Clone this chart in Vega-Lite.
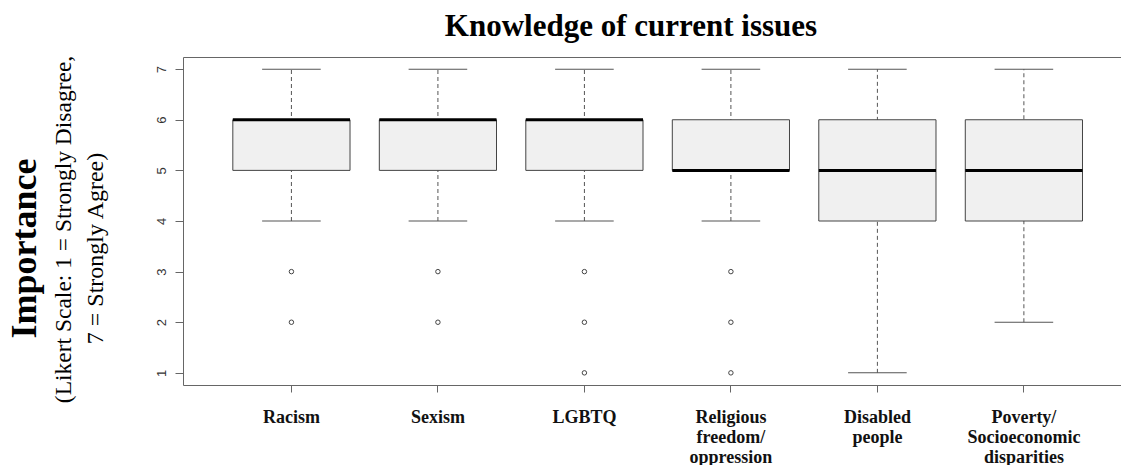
{
  "$schema": "https://vega.github.io/schema/vega-lite/v6.json",
  "width": 938,
  "height": 328,
  "autosize": {"type": "none"},
  "padding": {"left": 183, "top": 57, "right": 0, "bottom": 80},
  "background": "white",
  "title": {
    "text": "Knowledge of current issues",
    "font": "Liberation Serif",
    "fontSize": 31,
    "fontWeight": "bold",
    "color": "#000000",
    "anchor": "middle",
    "dx": -21,
    "dy": 31,
    "baseline": "alphabetic",
    "offset": 19
  },
  "datasets": {
    "boxes": [
      {"issue": "Racism", "lower": 4, "q1": 5, "median": 6, "q3": 6, "upper": 7},
      {"issue": "Sexism", "lower": 4, "q1": 5, "median": 6, "q3": 6, "upper": 7},
      {"issue": "LGBTQ", "lower": 4, "q1": 5, "median": 6, "q3": 6, "upper": 7},
      {"issue": "Religious freedom/ oppression", "lower": 4, "q1": 5, "median": 5, "q3": 6, "upper": 7},
      {"issue": "Disabled people", "lower": 1, "q1": 4, "median": 5, "q3": 6, "upper": 7},
      {"issue": "Poverty/ Socioeconomic disparities", "lower": 2, "q1": 4, "median": 5, "q3": 6, "upper": 7}
    ],
    "outliers": [
      {"issue": "Racism", "value": 3},
      {"issue": "Racism", "value": 2},
      {"issue": "Sexism", "value": 3},
      {"issue": "Sexism", "value": 2},
      {"issue": "LGBTQ", "value": 3},
      {"issue": "LGBTQ", "value": 2},
      {"issue": "LGBTQ", "value": 1},
      {"issue": "Religious freedom/ oppression", "value": 3},
      {"issue": "Religious freedom/ oppression", "value": 2},
      {"issue": "Religious freedom/ oppression", "value": 1}
    ]
  },
  "config": {
    "view": {"stroke": null},
    "axis": {"grid": false, "domainColor": "#666666", "tickColor": "#666666"}
  },
  "resolve": {"scale": {"y": "independent"}, "axis": {"x": "independent"}},
  "layer": [
    {
      "data": {"name": "boxes"},
      "encoding": {
        "x": {
          "field": "issue",
          "type": "nominal",
          "sort": null,
          "scale": {"paddingInner": 0.2, "paddingOuter": 0.3015, "align": 0.564},
          "axis": {
            "orient": "bottom",
            "title": null,
            "labelAngle": 0,
            "labelAlign": "center",
            "labelFont": "Liberation Serif",
            "labelFontSize": 18,
            "labelFontWeight": "bold",
            "labelColor": "#111111",
            "labelLineHeight": 20,
            "labelBaseline": "alphabetic",
            "labelPadding": 30,
            "labelOverlap": false,
            "tickSize": 7,
            "labelExpr": "split(datum.value, ' ')"
          }
        }
      },
      "layer": [
        {
          "mark": {"type": "rule", "strokeDash": [4, 3], "color": "#555555", "strokeWidth": 1},
          "encoding": {
            "y": {
              "field": "lower", "type": "quantitative",
              "scale": {"domain": [0.76, 7.24], "nice": false, "zero": false},
              "axis": {
                "title": "Importance",
                "titleFont": "Liberation Serif",
                "titleFontSize": 36,
                "titleFontWeight": "bold",
                "titleColor": "#000000",
                "titleAngle": -90,
                "titleAlign": "center",
                "titleBaseline": "alphabetic",
                "titleX": -148,
                "titleY": 191,
                "values": [1, 2, 3, 4, 5, 6, 7],
                "labelAngle": -90,
                "labelAlign": "center",
                "labelBaseline": "alphabetic",
                "labelFont": "Liberation Sans",
                "labelFontSize": 13,
                "labelColor": "#333333",
                "tickSize": 8,
                "labelPadding": 10
              }
            },
            "y2": {"field": "upper"}
          }
        },
        {
          "mark": {"type": "tick", "size": 58.6, "thickness": 1, "color": "#555555", "opacity": 1},
          "encoding": {
            "y": {"field": "lower", "type": "quantitative", "scale": {"domain": [0.76, 7.24], "nice": false, "zero": false}}
          }
        },
        {
          "mark": {"type": "tick", "size": 58.6, "thickness": 1, "color": "#555555", "opacity": 1},
          "encoding": {
            "y": {"field": "upper", "type": "quantitative", "scale": {"domain": [0.76, 7.24], "nice": false, "zero": false}}
          }
        },
        {
          "mark": {"type": "bar", "fill": "#f0f0f0", "stroke": "#444444", "strokeWidth": 1},
          "encoding": {
            "y": {"field": "q1", "type": "quantitative", "scale": {"domain": [0.76, 7.24], "nice": false, "zero": false}},
            "y2": {"field": "q3"}
          }
        }
      ]
    },
    {
      "data": {"name": "boxes"},
      "mark": {"type": "tick", "size": 117.2, "thickness": 3, "color": "#000000", "opacity": 1},
      "encoding": {
        "x": {
          "field": "issue",
          "type": "nominal",
          "sort": null,
          "scale": {"paddingInner": 0.2, "paddingOuter": 0.3015, "align": 0.564},
          "axis": {"orient": "top", "title": null, "labels": false, "ticks": false, "domain": true}
        },
        "y": {
          "field": "median", "type": "quantitative",
          "scale": {"domain": [0.76, 7.24], "nice": false, "zero": false},
          "axis": {
            "orient": "left",
            "title": "7 = Strongly Agree)",
            "titleFont": "Liberation Serif",
            "titleFontSize": 24,
            "titleFontWeight": "normal",
            "titleColor": "#000000",
            "titleAngle": -90,
            "titleAlign": "center",
            "titleBaseline": "alphabetic",
            "titleX": -81,
            "titleY": 191,
            "labels": false,
            "ticks": false,
            "domain": false
          }
        }
      }
    },
    {
      "data": {"name": "outliers"},
      "mark": {"type": "point", "shape": "circle", "filled": false, "size": 20, "color": "#444444", "strokeWidth": 1, "opacity": 1},
      "encoding": {
        "x": {
          "field": "issue",
          "type": "nominal",
          "sort": null,
          "scale": {"paddingInner": 0.2, "paddingOuter": 0.3015, "align": 0.564},
          "axis": null
        },
        "y": {
          "field": "value", "type": "quantitative",
          "scale": {"domain": [0.76, 7.24], "nice": false, "zero": false},
          "axis": {
            "orient": "left",
            "title": "(Likert Scale: 1 = Strongly Disagree,",
            "titleFont": "Liberation Serif",
            "titleFontSize": 23.5,
            "titleFontWeight": "normal",
            "titleColor": "#000000",
            "titleAngle": -90,
            "titleAlign": "center",
            "titleBaseline": "alphabetic",
            "titleX": -113,
            "titleY": 172,
            "labels": false,
            "ticks": false,
            "domain": false
          }
        }
      }
    }
  ]
}
